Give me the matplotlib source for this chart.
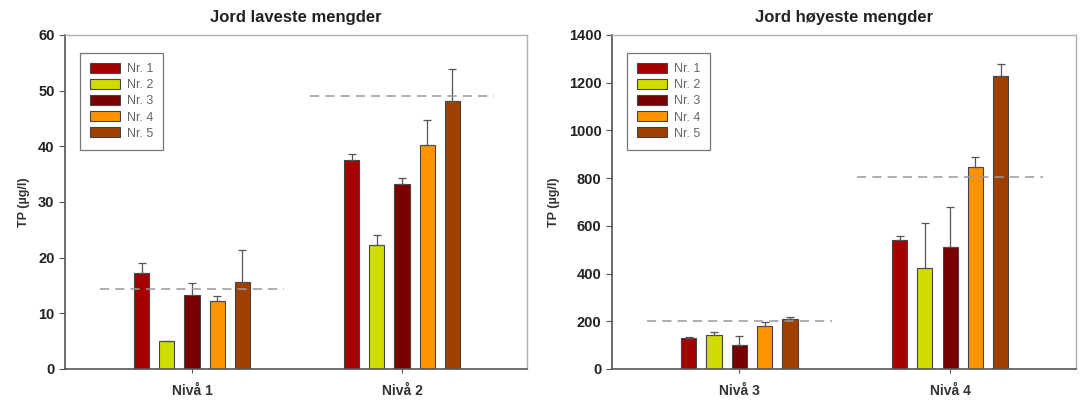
import numpy as np
import matplotlib.pyplot as plt

plt.rcParams['font.family'] = ['Liberation Sans', 'DejaVu Sans']

series = ["Nr. 1", "Nr. 2", "Nr. 3", "Nr. 4", "Nr. 5"]
colors = ["#a50000", "#cfdc00", "#780000", "#ff9300", "#a04000"]

# Jord laveste mengder
low_groups = ["Nivå 1", "Nivå 2"]
low_vals = [[17.2, 5.0, 13.3, 12.2, 15.7],
            [37.6, 22.3, 33.2, 40.2, 48.2]]
low_err = [[1.9, 0.0, 2.1, 1.0, 5.7],
           [1.1, 1.7, 1.1, 4.5, 5.7]]
low_ref = [14.3, 49.1]

# Jord høyeste mengder
high_groups = ["Nivå 3", "Nivå 4"]
high_vals = [[128, 142, 101, 182, 211],
             [539, 423, 513, 847, 1229]]
high_err = [[7, 14, 37, 14, 5],
            [20, 190, 165, 41, 51]]
high_ref = [200, 806]


def draw(ax, groups, vals, errs, refs, title, ymax, ystep):
    x = np.arange(1, len(groups) + 1)
    offs = (np.arange(5) - 2) * 0.12
    for j in range(5):
        v = [vals[g][j] for g in range(len(groups))]
        e = [errs[g][j] for g in range(len(groups))]
        ax.bar(x + offs[j], v, width=0.072, color=colors[j], edgecolor="#444444",
               linewidth=0.8, label=series[j], zorder=2)
        ax.errorbar(x + offs[j], v, yerr=[np.zeros(len(v)), e], fmt="none",
                    ecolor="#555555", elinewidth=0.9, capsize=3, capthick=0.9, zorder=3)
    for g in range(len(groups)):
        ax.plot([x[g] - 0.44, x[g] + 0.44], [refs[g], refs[g]], ls=(0, (6, 4)),
                color="#999999", lw=1.1, zorder=4)
    ax.set_xlim(0.395, 2.595)
    ax.set_ylim(0, ymax)
    ax.set_yticks(np.arange(0, ymax + 1, ystep))
    ax.set_xticks(x)
    ax.set_xticklabels(groups, fontsize=10, fontweight="bold", color="#333333")
    ax.tick_params(axis="y", labelsize=10.5, length=4, width=0.8, colors="#555555",
                   labelcolor="#222222")
    ax.tick_params(axis="x", length=3, width=0.8, colors="#555555", labelcolor="#333333", pad=8)
    for lab in ax.get_yticklabels():
        lab.set_fontweight("bold")
    ax.set_ylabel("TP (µg/l)", fontsize=9, fontweight="bold", color="#333333", labelpad=6)
    ax.set_title(title, fontsize=12, fontweight="bold", color="#222222", pad=9)
    for side in ["top", "right"]:
        ax.spines[side].set_color("#b0b0b0")
        ax.spines[side].set_linewidth(1.0)
    for side in ["left", "bottom"]:
        ax.spines[side].set_color("#555555")
        ax.spines[side].set_linewidth(1.2)
    leg = ax.legend(loc="upper left", bbox_to_anchor=(0.032, 0.946), fontsize=9,
                    frameon=True, fancybox=False, edgecolor="#555555",
                    handlelength=2.4, handleheight=0.85, labelspacing=0.3,
                    borderpad=0.8, handletextpad=0.55, borderaxespad=0)
    leg.get_frame().set_linewidth(0.9)
    for t in leg.get_texts():
        t.set_color("#666666")


fig = plt.figure(figsize=(10.81, 4.03), dpi=100)
ax1 = fig.add_axes([0.0601, 0.0844, 0.4274, 0.8288])
ax2 = fig.add_axes([0.566, 0.0844, 0.429, 0.8288])

draw(ax1, low_groups, low_vals, low_err, low_ref, "Jord laveste mengder", 60, 10)
draw(ax2, high_groups, high_vals, high_err, high_ref, "Jord høyeste mengder", 1400, 200)

fig.savefig("out.png", dpi=100)
